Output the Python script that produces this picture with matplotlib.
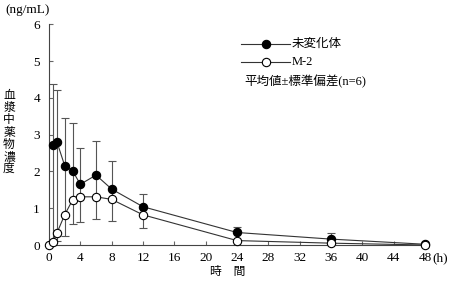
import numpy as np
import matplotlib
matplotlib.use("Agg")
from matplotlib import pyplot as plt

plt.rcParams['font.family'] = ['Liberation Serif', 'Noto Sans CJK JP']

# time points (h)
t_parent = [0.5, 1, 2, 3, 4, 6, 8, 12, 24, 36, 48]
parent_mean = [2.72, 2.81, 2.16, 2.02, 1.65, 1.90, 1.52, 1.04, 0.34, 0.16, 0.02]
parent_sd = [1.66, 1.41, 1.30, 1.31, 0.99, 0.93, 0.76, 0.36, 0.16, 0.17, 0.0]

t_m2 = [0, 0.5, 1, 2, 3, 4, 6, 8, 12, 24, 36, 48]
m2_mean = [0.0, 0.09, 0.32, 0.82, 1.22, 1.31, 1.31, 1.24, 0.82, 0.12, 0.05, 0.0]
m2_sd = [0.0, 0.09, 0.20, 0.57, 0.66, 0.69, 0.60, 0.60, 0.37, 0.12, 0.05, 0.0]

xticks = list(range(0, 49, 4))
yticks = [0, 1, 2, 3, 4, 5, 6]
ylabel = '血漿中薬物濃度'

W, H = 450, 282
fig = plt.figure(figsize=(4.5, 2.82), dpi=100)
ax = fig.add_axes([49 / W, 1 - 245 / H, 376 / W, (245 - 24.3) / H])

lc = '#333333'
ec = '#555555'
ms = 6.0

# link segments between the two series at shared times
shared = [t for t in t_parent if t in t_m2]
lo = [m2_mean[t_m2.index(t)] for t in shared]
hi = [parent_mean[t_parent.index(t)] for t in shared]
ax.vlines(shared, lo, hi, color=ec, lw=0.8, zorder=1)

ax.errorbar(t_parent, parent_mean, yerr=[np.zeros(len(parent_sd)), parent_sd],
            fmt='none', ecolor=ec, elinewidth=0.8, capsize=2.6, capthick=0.8, zorder=1)
ax.errorbar(t_m2, m2_mean, yerr=[m2_sd, np.zeros(len(m2_sd))],
            fmt='none', ecolor=ec, elinewidth=0.8, capsize=2.6, capthick=0.8, zorder=1)

ax.plot(t_parent, parent_mean, '-o', color=lc, lw=0.8, ms=ms,
        mfc='black', mec='black', mew=0.8, zorder=3, clip_on=False)
ax.plot(t_m2, m2_mean, '-o', color=lc, lw=0.8, ms=ms,
        mfc='white', mec='black', mew=0.8, zorder=4, clip_on=False)

ax.set_xlim(0, 48)
ax.set_ylim(0, 6)
ax.set_xticks(xticks)
ax.set_yticks(yticks)
ax.spines['top'].set_visible(False)
ax.spines['right'].set_visible(False)
for side in ['left', 'bottom']:
    ax.spines[side].set_color('#444444')
    ax.spines[side].set_linewidth(0.8)
ax.tick_params(direction='in', length=3, width=0.8, color='#666666', labelsize=9.5)
ax.tick_params(axis='y', pad=6.5)
ax.tick_params(axis='x', pad=5)

# legend drawn by hand
lx0, lx1 = 241 / W, 290 / W
for i, (fc, label) in enumerate([('black', '未変化体'), ('white', 'M-2')]):
    y = 1 - (44 + 18 * i) / H
    fig.add_artist(plt.Line2D([lx0, lx1], [y, y], transform=fig.transFigure,
                              color=lc, lw=0.8))
    fig.add_artist(plt.Line2D([(lx0 + lx1) / 2], [y], transform=fig.transFigure,
                              marker='o', ms=ms, mfc=fc, mec='black', mew=0.8, lw=0))
    fig.text(292 / W, y, label, fontsize=9, va='center', ha='left')

fig.text(244 / W, 1 - 82 / H, '平均値±標準偏差(n=6)', fontsize=9, va='center', ha='left')

fig.text(5 / W, 1 - 10 / H, '(ng/mL)', fontsize=9.5, va='center', ha='left')
fig.text(432 / W, 1 - 258 / H, '(h)', fontsize=9.5, va='center', ha='left')
for i, ch in enumerate(ylabel):
    fig.text(9 / W, 1 - (96 + 12.2 * i) / H, ch, fontsize=8.5, va='center', ha='center')
fig.text(228 / W, 1 - 272 / H, '時\u3000間', fontsize=8.5, va='center', ha='center')

fig.savefig('out.png', dpi=100)
